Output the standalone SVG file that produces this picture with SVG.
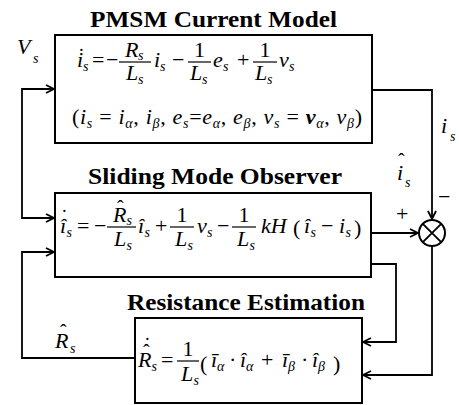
<svg xmlns="http://www.w3.org/2000/svg" width="459" height="405" viewBox="0 0 459 405">
<style>
.ttl{font-size:23px;font-weight:bold;text-anchor:middle}
.m{font-size:22px;font-style:italic}
.r{font-size:22px;font-style:normal}
.sb{font-size:14px;font-style:italic}
.ac{font-size:20px;font-style:normal}
.box{fill:#fff;stroke:#000;stroke-width:2}
.fr{stroke:#000;stroke-width:1.2}
.ln{fill:none;stroke:#000;stroke-width:1.8}
</style>
<defs>
<marker id="arr" markerUnits="userSpaceOnUse" viewBox="0 0 10 10" refX="9" refY="5" markerWidth="10" markerHeight="10" orient="auto-start-reverse">
<path d="M1,1 L9,5 L1,9" fill="none" stroke="#000" stroke-width="1.8"/>
</marker>
</defs>
<rect width="459" height="405" fill="#fff"/>

<g id="connectors">
<path class="ln" d="M54,89 H22 V218 H54" marker-start="url(#arr)" marker-end="url(#arr)"/>
<path class="ln" d="M372,90 H432 V219" marker-end="url(#arr)"/>
<path class="ln" d="M371,233 H418" marker-end="url(#arr)"/>
<path class="ln" d="M432,246 V375 H363" marker-end="url(#arr)"/>
<path class="ln" d="M371,264 H396 V342 H363" marker-end="url(#arr)"/>
<path class="ln" d="M135,358 H22 V252 H54" marker-end="url(#arr)"/>
</g>

<g id="node-pmsm" font-family="Liberation Serif">
<text class="ttl" x="213.5" y="27" textLength="247" lengthAdjust="spacingAndGlyphs">PMSM Current Model</text>
<rect class="box" x="55" y="35" width="317" height="108"/>
<text>
<tspan class="m" x="77" y="67">i</tspan><tspan class="ac" x="78" y="63">˙</tspan><tspan class="sb" x="83" y="71">s</tspan>
<tspan class="r" x="92" y="67">=</tspan>
<tspan class="r" x="106" y="67">−</tspan>
<tspan class="m" x="125" y="57">R</tspan><tspan class="sb" x="138" y="60">s</tspan>
<tspan class="m" x="126" y="80">L</tspan><tspan class="sb" x="138" y="84">s</tspan>
<tspan class="m" x="154" y="67">i</tspan><tspan class="sb" x="160" y="71">s</tspan>
<tspan class="r" x="172" y="67">−</tspan>
<tspan class="r" x="194" y="57">1</tspan>
<tspan class="m" x="190" y="80">L</tspan><tspan class="sb" x="202" y="84">s</tspan>
<tspan class="m" x="213" y="67">e</tspan><tspan class="sb" x="223" y="71">s</tspan>
<tspan class="r" x="237" y="67">+</tspan>
<tspan class="r" x="259.5" y="57">1</tspan>
<tspan class="m" x="255" y="80">L</tspan><tspan class="sb" x="267" y="84">s</tspan>
<tspan class="m" x="279" y="67">v</tspan><tspan class="sb" x="289" y="71">s</tspan>
</text>
<line class="fr" x1="119" y1="62" x2="151" y2="62"/>
<line class="fr" x1="188" y1="62" x2="211" y2="62"/>
<line class="fr" x1="253" y1="62" x2="277" y2="62"/>
<text x="72" y="124" textLength="290" lengthAdjust="spacing"><tspan class="r">(</tspan><tspan class="m">i</tspan><tspan class="sb" dy="4">s</tspan><tspan class="r" dy="-4"> = </tspan><tspan class="m">i</tspan><tspan class="sb" dy="4">α</tspan><tspan class="r" dy="-4">, </tspan><tspan class="m">i</tspan><tspan class="sb" dy="4">β</tspan><tspan class="r" dy="-4">, </tspan><tspan class="m">e</tspan><tspan class="sb" dy="4">s</tspan><tspan class="r" dy="-4">=</tspan><tspan class="m">e</tspan><tspan class="sb" dy="4">α</tspan><tspan class="r" dy="-4">, </tspan><tspan class="m">e</tspan><tspan class="sb" dy="4">β</tspan><tspan class="r" dy="-4">, </tspan><tspan class="m">v</tspan><tspan class="sb" dy="4">s</tspan><tspan class="r" dy="-4"> = </tspan><tspan class="m" font-weight="bold">v</tspan><tspan class="sb" dy="4">α</tspan><tspan class="r" dy="-4">, </tspan><tspan class="m">v</tspan><tspan class="sb" dy="4">β</tspan><tspan class="r" dy="-4">)</tspan></text>
</g>

<g id="node-smo" font-family="Liberation Serif">
<text class="ttl" x="215" y="184" textLength="254" lengthAdjust="spacingAndGlyphs">Sliding  Mode Observer</text>
<rect class="box" x="55" y="193" width="316" height="84"/>
<text>
<tspan class="m" x="60" y="233">î</tspan><tspan class="ac" x="61" y="224">˙</tspan><tspan class="sb" x="66.5" y="237">s</tspan>
<tspan class="r" x="77" y="233">=</tspan>
<tspan class="r" x="94" y="233">−</tspan>
<tspan class="m" x="113" y="222">R</tspan><tspan class="ac" x="117" y="215">ˆ</tspan><tspan class="sb" x="126.5" y="225">s</tspan>
<tspan class="m" x="114" y="246">L</tspan><tspan class="sb" x="126.5" y="250">s</tspan>
<tspan class="m" x="138" y="233">î</tspan><tspan class="sb" x="144.5" y="237">s</tspan>
<tspan class="r" x="155" y="233">+</tspan>
<tspan class="r" x="176.5" y="222">1</tspan>
<tspan class="m" x="175" y="246">L</tspan><tspan class="sb" x="187.5" y="250">s</tspan>
<tspan class="m" x="197" y="233">v</tspan><tspan class="sb" x="207" y="237">s</tspan>
<tspan class="r" x="217" y="233">−</tspan>
<tspan class="r" x="238.5" y="222">1</tspan>
<tspan class="m" x="237" y="246">L</tspan><tspan class="sb" x="249.5" y="250">s</tspan>
<tspan class="m" x="261" y="233">kH</tspan>
<tspan class="r" x="293" y="235" font-size="26">(</tspan>
<tspan class="m" x="304" y="233">î</tspan><tspan class="sb" x="310.5" y="237">s</tspan>
<tspan class="r" x="321" y="233">−</tspan>
<tspan class="m" x="339" y="233">i</tspan><tspan class="sb" x="345.5" y="237">s</tspan>
<tspan class="r" x="354" y="235" font-size="26">)</tspan>
</text>
<line class="fr" x1="107" y1="227" x2="136" y2="227"/>
<line class="fr" x1="170" y1="227" x2="194" y2="227"/>
<line class="fr" x1="232" y1="227" x2="256" y2="227"/>
</g>

<g id="node-res" font-family="Liberation Serif">
<text class="ttl" x="246" y="310" textLength="238" lengthAdjust="spacingAndGlyphs">Resistance Estimation</text>
<rect class="box" x="135" y="318" width="227" height="85"/>
<text>
<tspan class="m" x="138" y="367">R</tspan><tspan class="ac" x="143" y="359">ˆ</tspan><tspan class="ac" x="144" y="352">˙</tspan><tspan class="sb" x="151.5" y="371">s</tspan>
<tspan class="r" x="161" y="367">=</tspan>
<tspan class="r" x="182.5" y="356">1</tspan>
<tspan class="m" x="181" y="381">L</tspan><tspan class="sb" x="193.5" y="385">s</tspan>
<tspan class="r" x="200" y="371" font-size="28">(</tspan>
<tspan class="m" x="211" y="367">ī</tspan><tspan class="sb" x="217" y="371">α</tspan>
<tspan class="r" x="229" y="367">·</tspan>
<tspan class="m" x="240" y="367">î</tspan><tspan class="sb" x="246" y="371">α</tspan>
<tspan class="r" x="261" y="367">+</tspan>
<tspan class="m" x="282" y="367">ī</tspan><tspan class="sb" x="288" y="371">β</tspan>
<tspan class="r" x="301" y="367">·</tspan>
<tspan class="m" x="312" y="367">î</tspan><tspan class="sb" x="318" y="371">β</tspan>
<tspan class="r" x="333" y="371" font-size="28">)</tspan>
</text>
<line class="fr" x1="177" y1="361" x2="199" y2="361"/>
</g>

<g id="node-sum" font-family="Liberation Serif">
<circle cx="432" cy="233" r="13" fill="#fff" stroke="#000" stroke-width="2"/>
<path d="M422.8,223.8 L441.2,242.2 M441.2,223.8 L422.8,242.2" stroke="#000" stroke-width="1.8"/>
<text class="r" x="438" y="204">−</text>
<text class="r" x="396" y="221" font-size="20">+</text>
</g>

<g id="labels" font-family="Liberation Serif">
<text><tspan class="m" x="17" y="54">V</tspan><tspan class="sb" x="33" y="63">s</tspan></text>
<text><tspan class="m" x="441" y="133" font-size="24">i</tspan><tspan class="sb" x="450" y="141">s</tspan></text>
<text><tspan class="m" x="397" y="180" font-size="24">i</tspan><tspan class="ac" x="398" y="168">ˆ</tspan><tspan class="sb" x="405" y="187">s</tspan></text>
<text><tspan class="m" x="55" y="348">R</tspan><tspan class="ac" x="60" y="339">ˆ</tspan><tspan class="sb" x="70" y="353">s</tspan></text>
</g>
</svg>
